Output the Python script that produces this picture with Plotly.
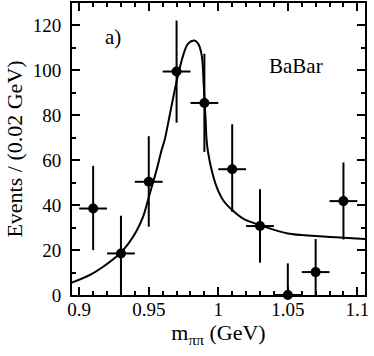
import plotly.graph_objects as go

# measured points (bin centres, events per 0.02 GeV)
mass = [0.91, 0.93, 0.95, 0.97, 0.99, 1.01, 1.03, 1.05, 1.07, 1.09]
events = [38.5, 18.5, 50.4, 99.5, 85.5, 56.0, 30.7, 0.0, 10.2, 41.8]
err_up = [19.0, 16.8, 20.3, 22.7, 21.9, 20.0, 16.4, 14.1, 14.7, 17.2]
err_down = [18.5, 18.5, 20.0, 22.8, 21.8, 19.0, 16.3, 0.0, 10.2, 17.1]
bin_half = [0.01] * len(mass)

# fit curve
fit_mass = [0.8932, 0.9076, 0.9172, 0.9292, 0.9352, 0.9412, 0.9460, 0.950,
            0.9556, 0.9592, 0.9616, 0.9652, 0.970, 0.9748, 0.9783, 0.9827,
            0.9855, 0.988, 0.9896, 0.9909, 0.9916, 0.9928, 0.9952, 0.9988,
            1.0035, 1.010, 1.0179, 1.030, 1.050, 1.070, 1.090, 1.106]
fit_events = [5.2, 8.9, 12.6, 18.5, 22.8, 28.5, 35.0, 43.5,
              55.6, 64.4, 69.5, 80.5, 95.0, 106.8, 111.9, 113.3,
              111.9, 107.0, 92.6, 77.8, 68.9, 63.0, 55.6, 48.1,
              42.2, 37.8, 34.0, 31.1, 27.4, 26.3, 25.5, 24.9]

font = 'Liberation Serif'

fig = go.Figure()

fig.add_trace(go.Scatter(
    x=fit_mass, y=fit_events, mode='lines',
    line=dict(color='black', width=2, shape='spline', smoothing=1.0),
    hoverinfo='skip'
))

fig.add_trace(go.Scatter(
    x=mass, y=events, mode='markers',
    marker=dict(color='black', size=10),
    error_x=dict(type='data', array=bin_half, color='black', thickness=2, width=0),
    error_y=dict(type='data', array=err_up, arrayminus=err_down,
                 symmetric=False, color='black', thickness=2, width=0),
    cliponaxis=False
))

fig.add_annotation(x=0.924, y=114.7, text='a)', showarrow=False,
                   font=dict(family=font, size=21, color='black'))
fig.add_annotation(x=1.0557, y=102, text='BaBar', showarrow=False,
                   font=dict(family=font, size=21, color='black'))

axis_style = dict(
    showline=True, linecolor='black', linewidth=2, mirror='ticks',
    ticks='inside', ticklen=8, tickwidth=1.5, tickcolor='black',
    showgrid=False, zeroline=False, automargin=False,
    tickfont=dict(family=font, size=19, color='black'),
)

fig.update_layout(
    width=374, height=356,
    margin=dict(l=72, r=9, t=3, b=61),
    plot_bgcolor='white', paper_bgcolor='white',
    showlegend=False,
    xaxis=dict(
        range=[0.8948, 1.1055], dtick=0.05, tick0=0.9, ticklabelstandoff=-4,
        minor=dict(ticks='inside', dtick=0.01, ticklen=4, tickwidth=1.5, tickcolor='black'),
        title=dict(text='m<sub>ππ</sub> (GeV)', standoff=6,
                   font=dict(family=font, size=22, color='black')),
        **axis_style
    ),
    yaxis=dict(
        range=[0, 130], dtick=20, ticklabelstandoff=5,
        minor=dict(ticks='inside', dtick=10, ticklen=4, tickwidth=1.5, tickcolor='black'),
        title=dict(text='Events / (0.02 GeV)', standoff=4,
                   font=dict(family=font, size=22, color='black')),
        **axis_style
    ),
)

# the page's default body margin would shift the figure by 8px
fig.write_html("out.html", config={'displayModeBar': False},
               post_script="document.body.style.margin='0';")
